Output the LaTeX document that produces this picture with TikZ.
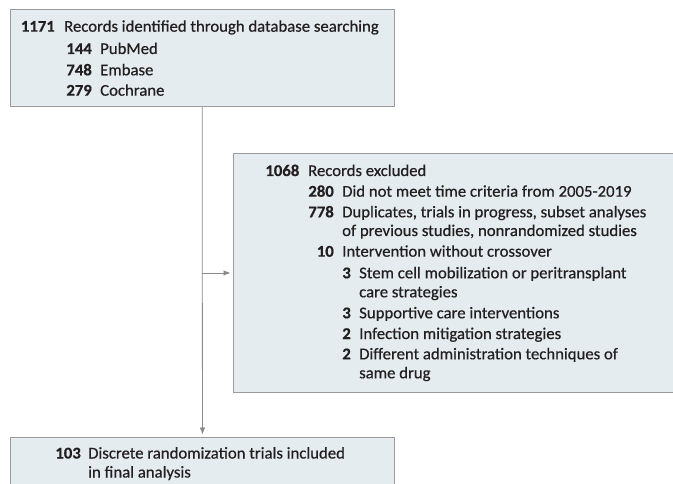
\documentclass[tikz,border=0pt]{standalone}
\usepackage{fontspec}
\setmainfont[FakeStretch=1.02,FakeBold=0.6]{Carlito}
\usepackage{xcolor}
\usepackage{tikz}
\usetikzlibrary{arrows.meta}
\definecolor{boxfill}{HTML}{E5ECF0}
\definecolor{boxdraw}{HTML}{9B9B9B}
\definecolor{linegray}{HTML}{8A8A8A}
\definecolor{ink}{HTML}{231F20}
\tikzstyle{block} = [rectangle, draw=boxdraw, fill=boxfill, line width=0.9pt,
    anchor=north west, inner sep=0pt]
\tikzstyle{line} = [draw=linegray, line width=0.8pt, -{Latex[length=7pt,width=5.5pt]},
    shorten >=2.5pt]
\tikzstyle{num} = [anchor=base east, inner sep=0pt, text=ink,
    font=\bfseries\fontsize{16.4}{19}\selectfont]
\tikzstyle{txt} = [anchor=base west, inner sep=0pt, text=ink,
    font=\fontsize{16.4}{19}\selectfont]

\begin{document}
\begin{tikzpicture}[x=1pt, y=-1pt]
    \useasboundingbox (0,0) rectangle (673,484);
    % Place boxes
    \node [block, minimum width=383.5pt, minimum height=97pt] (search) at (10,9) {};
    \node [block, minimum width=443pt, minimum height=239pt] (excluded) at (233,153) {};
    \node [block, minimum width=384pt, minimum height=63pt] (included) at (10,437) {};

    % Records identified
    \node [num] (n1171) at (55,31.7) {1171};
    \node [txt] (t1171) at (64,31.7) {Records identified through database searching};
    \node [num] (n144) at (92,54) {144};
    \node [txt] (t144) at (100,54) {PubMed};
    \node [num] (n748) at (92,75.3) {748};
    \node [txt] (t748) at (100,75.3) {Embase};
    \node [num] (n279) at (92,95.7) {279};
    \node [txt] (t279) at (100,95.7) {Cochrane};

    % Records excluded
    \node [num] (n1068) at (299.5,176) {1068};
    \node [txt] (t1068) at (308,176) {Records excluded};
    \node [num] (n280) at (334,196.7) {280};
    \node [txt] (t280) at (342,196.7) {Did not meet time criteria from 2005-2019};
    \node [num] (n778) at (334,217.3) {778};
    \node [txt] (t778) at (342,217.3) {Duplicates, trials in progress, subset analyses};
    \node [txt] (t778b) at (342,236) {of previous studies, nonrandomized studies};
    \node [num] (n10) at (334,256.7) {10};
    \node [txt] (t10) at (342,256.7) {Intervention without crossover};
    \node [num] (n3a) at (351,278.3) {3};
    \node [txt] (t3a) at (359,278.3) {Stem cell mobilization or peritransplant};
    \node [txt] (t3ab) at (359,297.3) {care strategies};
    \node [num] (n3b) at (351,318.3) {3};
    \node [txt] (t3b) at (359,318.3) {Supportive care interventions};
    \node [num] (n2a) at (351,339) {2};
    \node [txt] (t2a) at (359,339) {Infection mitigation strategies};
    \node [num] (n2b) at (351,359.3) {2};
    \node [txt] (t2b) at (359,359.3) {Different administration techniques of};
    \node [txt] (t2bb) at (359,378.3) {same drug};

    % Included
    \node [num] (n103) at (81,458.5) {103};
    \node [txt] (t103) at (88,458.5) {Discrete randomization trials included};
    \node [txt] (t103b) at (88,477.5) {in final analysis};

    % Connectors
    \coordinate (branch) at (search.south |- excluded.west);
    \path [line] (search.south) -- (included.north);
    \path [line] (branch) -- (excluded.west);
\end{tikzpicture}
\end{document}
